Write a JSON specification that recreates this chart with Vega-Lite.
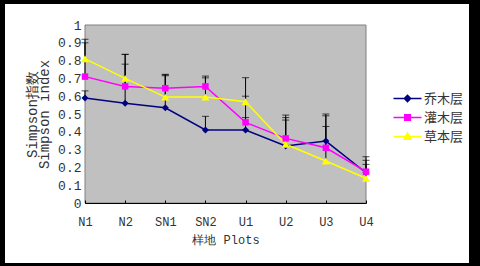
{
  "$schema": "https://vega.github.io/schema/vega-lite/v6.json",
  "width": 464,
  "height": 259,
  "autosize": {"type": "none"},
  "padding": {"left": 5, "top": 4, "right": 11, "bottom": 3},
  "background": "#000000",
  "config": {"view": {"fill": "#FFFFFF", "stroke": null}},
  "data": {"values": [
    {"plot": "N1", "series": "乔木层", "value": 0.59, "upper": 0.63},
    {"plot": "N1", "series": "灌木层", "value": 0.71, "upper": 0.90},
    {"plot": "N1", "series": "草本层", "value": 0.81, "upper": 0.92},
    {"plot": "N2", "series": "乔木层", "value": 0.56, "upper": 0.78},
    {"plot": "N2", "series": "灌木层", "value": 0.655, "upper": 0.835},
    {"plot": "N2", "series": "草本层", "value": 0.70, "upper": 0.835},
    {"plot": "SN1", "series": "乔木层", "value": 0.535, "upper": 0.72},
    {"plot": "SN1", "series": "灌木层", "value": 0.645, "upper": 0.723},
    {"plot": "SN1", "series": "草本层", "value": 0.595, "upper": 0.715},
    {"plot": "SN2", "series": "乔木层", "value": 0.41, "upper": 0.487},
    {"plot": "SN2", "series": "灌木层", "value": 0.655, "upper": 0.713},
    {"plot": "SN2", "series": "草本层", "value": 0.595, "upper": 0.703},
    {"plot": "U1", "series": "乔木层", "value": 0.41, "upper": 0.48},
    {"plot": "U1", "series": "灌木层", "value": 0.453, "upper": 0.60},
    {"plot": "U1", "series": "草本层", "value": 0.569, "upper": 0.704},
    {"plot": "U2", "series": "乔木层", "value": 0.32, "upper": 0.466},
    {"plot": "U2", "series": "灌木层", "value": 0.363, "upper": 0.494},
    {"plot": "U2", "series": "草本层", "value": 0.33, "upper": 0.48},
    {"plot": "U3", "series": "乔木层", "value": 0.348, "upper": 0.50},
    {"plot": "U3", "series": "灌木层", "value": 0.31, "upper": 0.49},
    {"plot": "U3", "series": "草本层", "value": 0.236, "upper": 0.43},
    {"plot": "U4", "series": "乔木层", "value": 0.17, "upper": 0.26},
    {"plot": "U4", "series": "灌木层", "value": 0.176, "upper": 0.24},
    {"plot": "U4", "series": "草本层", "value": 0.139, "upper": 0.217}
  ]},
  "encoding": {
    "x": {
      "field": "plot",
      "type": "nominal",
      "scale": {"type": "point", "domain": ["N1", "N2", "SN1", "SN2", "U1", "U2", "U3", "U4"], "range": [80, 361], "padding": 0},
      "axis": {
        "title": "样地 Plots",
        "titleFont": "Liberation Mono",
        "titleFontSize": 12,
        "titleFontWeight": "normal",
        "titleColor": "#333333",
        "titlePadding": 7,
        "labelFont": "Liberation Mono",
        "labelFontSize": 12,
        "labelColor": "#333333",
        "labelAngle": 0,
        "labelPadding": 16,
        "offset": -60,
        "domainColor": "#000000",
        "tickColor": "#000000",
        "tickSize": -3,
        "grid": false
      }
    },
    "y": {
      "field": "value",
      "type": "quantitative",
      "scale": {"domain": [0, 1], "range": [199, 21], "nice": false},
      "axis": {
        "title": ["Simpson指数", "Simpson index"],
        "titleFont": "Liberation Mono",
        "titleFontSize": 14,
        "titleFontWeight": "normal",
        "titleColor": "#333333",
        "titlePadding": 6,
        "titleLineHeight": 12,
        "labelFont": "Liberation Mono",
        "labelFontSize": 13,
        "labelColor": "#333333",
        "labelPadding": 7,
        "offset": -80,
        "values": [0, 0.1, 0.2, 0.3, 0.4, 0.5, 0.6, 0.7, 0.8, 0.9, 1],
        "format": ".1~f",
        "domainColor": "#000000",
        "tickColor": "#000000",
        "tickSize": -3,
        "grid": false
      }
    }
  },
  "layer": [
    {
      "data": {"values": [{"plot": "N1", "plot_end": "U4", "value": 0, "value_end": 1}]},
      "mark": {"type": "rect", "fill": "#C0C0C0", "stroke": "#808080", "strokeWidth": 1},
      "encoding": {
        "x": {"field": "plot", "type": "nominal"},
        "x2": {"field": "plot_end"},
        "y": {"field": "value", "type": "quantitative"},
        "y2": {"field": "value_end"}
      }
    },
    {
      "mark": {"type": "line", "strokeWidth": 1.5},
      "encoding": {
        "color": {
          "field": "series",
          "type": "nominal",
          "scale": {"domain": ["灌木层", "乔木层", "草本层"], "range": ["#FF00FF", "#000080", "#FFFF00"]},
          "legend": null
        }
      }
    },
    {
      "mark": {"type": "rule", "color": "#000000", "strokeWidth": 1},
      "encoding": {"y2": {"field": "upper"}}
    },
    {
      "mark": {"type": "tick", "color": "#000000", "size": 7, "thickness": 1},
      "encoding": {"y": {"field": "upper", "type": "quantitative"}}
    },
    {
      "transform": [{"filter": "datum.series === '乔木层'"}],
      "mark": {"type": "point", "filled": true, "shape": "diamond", "size": 49, "color": "#000080", "opacity": 1}
    },
    {
      "transform": [{"filter": "datum.series === '灌木层'"}],
      "mark": {"type": "point", "filled": true, "shape": "square", "size": 42, "color": "#FF00FF", "opacity": 1}
    },
    {
      "transform": [{"filter": "datum.series === '草本层'"}],
      "mark": {"type": "point", "filled": true, "shape": "triangle-up", "size": 64, "color": "#FFFF00", "opacity": 1}
    },
    {
      "mark": {"type": "point", "size": 196, "opacity": 0},
      "encoding": {
        "fill": {
          "field": "series",
          "type": "nominal",
          "scale": {"domain": ["乔木层", "灌木层", "草本层"], "range": ["#000080", "#FF00FF", "#FFFF00"]},
          "legend": {
            "title": null, "orient": "none", "legendX": 394.5, "legendY": 86.5,
            "symbolSize": 196, "symbolOpacity": 1, "symbolStrokeWidth": 1.5,
            "labelFont": "Noto Sans CJK SC", "labelFontSize": 13, "labelColor": "#333333",
            "labelOffset": 8.5, "rowPadding": 4, "padding": 0
          }
        },
        "stroke": {
          "field": "series",
          "type": "nominal",
          "scale": {"domain": ["乔木层", "灌木层", "草本层"], "range": ["#000080", "#FF00FF", "#FFFF00"]},
          "legend": {
            "title": null, "orient": "none", "legendX": 394.5, "legendY": 86.5,
            "symbolSize": 196, "symbolOpacity": 1, "symbolStrokeWidth": 1.5,
            "labelFont": "Noto Sans CJK SC", "labelFontSize": 13, "labelColor": "#333333",
            "labelOffset": 8.5, "rowPadding": 4, "padding": 0
          }
        },
        "shape": {
          "field": "series",
          "type": "nominal",
          "scale": {
            "domain": ["乔木层", "灌木层", "草本层"],
            "range": ["M-2,0H2M0,-0.45L0.45,0L0,0.45L-0.45,0Z", "M-2,0H2M-0.4,-0.4H0.4V0.4H-0.4Z", "M-2,0H2M0,-0.5L0.5,0.4H-0.5Z"]
          },
          "legend": {
            "title": null, "orient": "none", "legendX": 394.5, "legendY": 86.5,
            "symbolSize": 196, "symbolOpacity": 1, "symbolStrokeWidth": 1.5,
            "labelFont": "Noto Sans CJK SC", "labelFontSize": 13, "labelColor": "#333333",
            "labelOffset": 8.5, "rowPadding": 4, "padding": 0
          }
        }
      }
    }
  ]
}
